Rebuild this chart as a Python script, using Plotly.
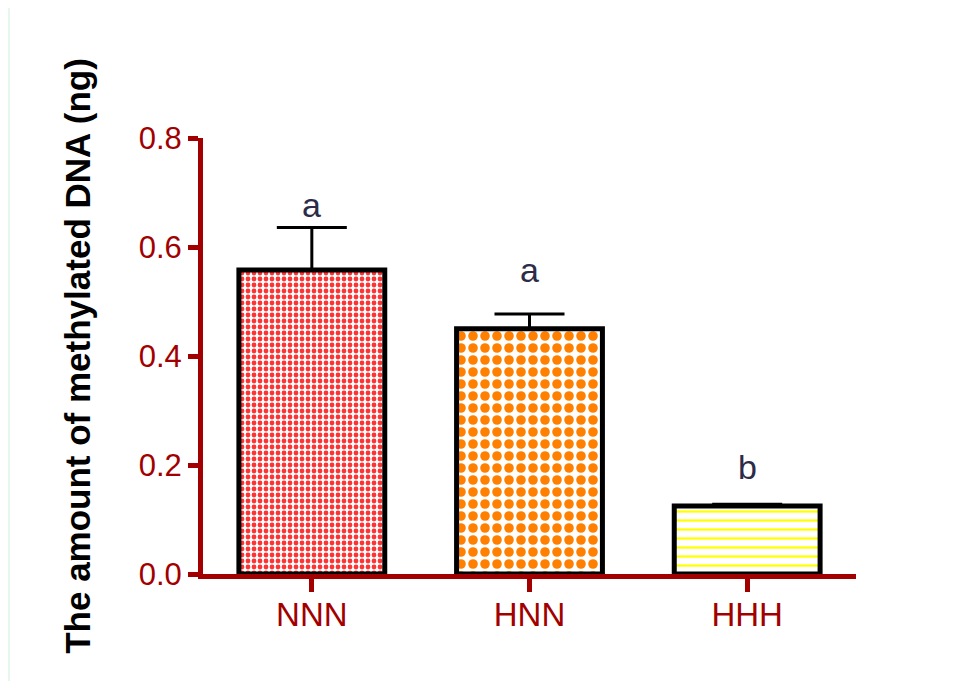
import plotly.graph_objects as go

categories = ["NNN", "HNN", "HHH"]
means = [0.558, 0.45, 0.125]
sem = [0.078, 0.027, 0.003]
sig_letters = ["a", "a", "b"]
sig_y = [0.677, 0.558, 0.196]
y_ticks = [0.0, 0.2, 0.4, 0.6, 0.8]
y_tick_text = ["0.0", "0.2", "0.4", "0.6", "0.8"]

fill_colors = ["#FF3333", "#FF8000", "#FFFF00"]
pattern_shapes = [".", ".", "-"]
pattern_sizes = [6, 12, 9]
pattern_solidity = [0.5, 0.5, 0.25]

AXIS = "#A20000"
FONT = "Liberation Sans, Arial, sans-serif"

# page body has an 8px margin; figure sized so that it fits the window
W, H = 956, 673
L, R, T, B = 195, 108, 130, 107
PW = W - L - R
PH = H - T - B

fig = go.Figure()
fig.add_trace(go.Bar(
    x=categories,
    y=means,
    width=0.67,
    marker=dict(
        color="white",
        line=dict(color="black", width=5),
        pattern=dict(
            shape=pattern_shapes,
            fgcolor=fill_colors,
            bgcolor="white",
            size=pattern_sizes,
            solidity=pattern_solidity,
            fillmode="replace",
        ),
    ),
    error_y=dict(
        type="data",
        symmetric=False,
        array=sem,
        arrayminus=[0, 0, 0],
        color="black",
        thickness=3,
        width=35,
    ),
    showlegend=False,
))

for cat, lab, yy in zip(categories, sig_letters, sig_y):
    fig.add_annotation(
        x=cat, y=yy, text=lab, showarrow=False,
        xanchor="center", yanchor="middle",
        font=dict(family=FONT, size=34, color="#2C2C48"),
    )

# panel background
fig.add_shape(type="rect", xref="paper", yref="paper",
              x0=(2 - L) / PW, x1=(954 - L) / PW,
              y0=(T + PH - 700) / PH, y1=(T + PH + 10) / PH,
              fillcolor="white", line=dict(width=0), layer="below")
fig.add_shape(type="rect", xref="paper", yref="paper",
              x0=(954 - L) / PW, x1=(960 - L) / PW,
              y0=(T + PH - 700) / PH, y1=(T + PH + 4) / PH,
              fillcolor="#B9C4BE", line=dict(width=0), layer="below")

fig.update_layout(
    width=W, height=H,
    margin=dict(l=L, r=R, t=T, b=B),
    paper_bgcolor="#E6F8EC",
    plot_bgcolor="white",
    font=dict(family=FONT),
    xaxis=dict(
        range=[-0.5, 2.5],
        showline=True, linecolor=AXIS, linewidth=5,
        ticks="outside", tickcolor=AXIS, tickwidth=5, ticklen=13,
        tickfont=dict(family=FONT, size=33, color=AXIS),
        ticklabelstandoff=-6,
        showgrid=False, zeroline=False,
    ),
    yaxis=dict(
        range=[0, 0.8],
        tickvals=y_ticks, ticktext=y_tick_text,
        showline=True, linecolor=AXIS, linewidth=5,
        ticks="outside", tickcolor=AXIS, tickwidth=5, ticklen=10,
        tickfont=dict(family=FONT, size=31, color=AXIS),
        showgrid=False, zeroline=False,
        title=dict(text="<b>The amount of methylated DNA (ng)</b>",
                   font=dict(family=FONT, size=35, color="black"),
                   standoff=39),
    ),
)

fig.write_html("out.html")
